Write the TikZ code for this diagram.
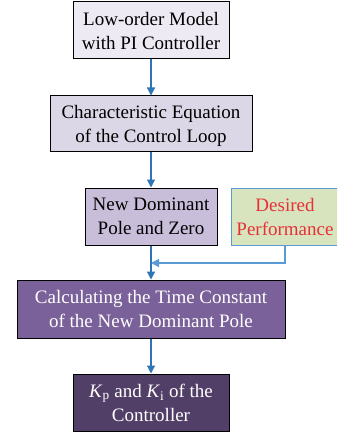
\documentclass[tikz,border=0pt]{standalone}
\usepackage{fontspec}
\setmainfont{LiberationSerif}[Extension=.ttf, UprightFont=*-Regular, ItalicFont=*-Italic, BoldFont=*-Bold, BoldItalicFont=*-BoldItalic]
\usetikzlibrary{arrows.meta}
\definecolor{arrblue}{HTML}{2E75B6}
\definecolor{lblue}{HTML}{5B9BD5}
\definecolor{f1}{HTML}{EEEAF4}
\definecolor{f2}{HTML}{DCD7E6}
\definecolor{f3}{HTML}{C8BEDA}
\definecolor{f4}{HTML}{7B6199}
\definecolor{f5}{HTML}{523F67}
\definecolor{fg}{HTML}{D7E4BD}
\definecolor{tred}{HTML}{E8303A}
\tikzset{
  box/.style={draw=black, line width=1pt, align=center, inner sep=0pt,
    font=\rmfamily\fontsize{19}{24}\selectfont, text depth=0pt},
  arr/.style={draw=arrblue, line width=1.2pt, -{Triangle[length=8pt,width=8pt]}},
}
\begin{document}
\begin{tikzpicture}[x=1pt,y=-1pt]
\useasboundingbox (0,0) rectangle (337,433);
\begin{scope}
\clip (0,0) rectangle (337,433);
\node[box, fill=f1, minimum width=156pt, minimum height=57pt] (b1) at (151,30.5) {Low-order Model\\with PI Controller};
\node[box, fill=f2, minimum width=202pt, minimum height=55pt] (b2) at (151,123.5) {Characteristic Equation\\of the Control Loop};
\node[box, fill=f3, minimum width=132pt, minimum height=57pt] (b3) at (151,216.5) {New Dominant\\Pole and Zero};
\node[box, draw=lblue, fill=fg, text=tred, minimum width=108pt, minimum height=57pt] (d) at (285,216.5) {Desired\\Performance};
\node[box, fill=f4, text=white, minimum width=268pt, minimum height=58pt] (b4) at (151,309) {Calculating the Time Constant\\of the New Dominant Pole};
\node[box, fill=f5, text=white, minimum width=156pt, minimum height=57pt] (b5) at (151,402.5) {\textit{K}\textsubscript{p} and \textit{K}\textsubscript{i} of the\\Controller};
\coordinate (j) at (151,263);
\draw[arr] (b1) -- (b2);
\draw[arr] (b2) -- (b3);
\draw[arr] (b3) -- (b4);
\draw[arr] (b4) -- (b5);
\draw[arr, draw=lblue] (d.south) |- (j);
\end{scope}
\end{tikzpicture}
\end{document}
